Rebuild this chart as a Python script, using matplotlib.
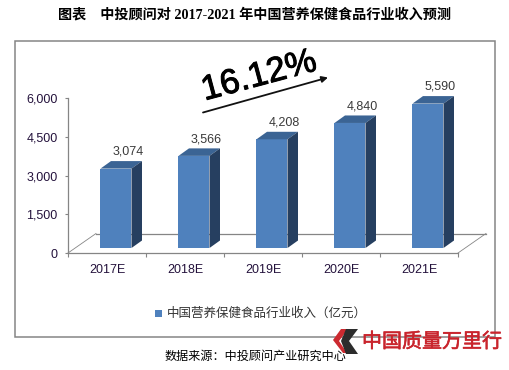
import matplotlib
matplotlib.use('Agg')
import matplotlib.pyplot as plt
import matplotlib.patheffects as pe
from matplotlib.patches import Polygon, Rectangle

## Data
categories = ['2017E', '2018E', '2019E', '2020E', '2021E']
revenue = [3074, 3566, 4208, 4840, 5590]
y_ticks = [0, 1500, 3000, 4500, 6000]
title = '图表    中投顾问对 2017-2021 年中国营养保健食品行业收入预测'
legend_label = '中国营养保健食品行业收入（亿元）'
source = '数据来源：中投顾问产业研究中心'
growth = '16.12%'
watermark = '中国质量万里行'

W, H = 510, 370
CJK = 'Noto Sans CJK SC'
LATIN = 'Liberation Sans'
TICK_COL = '#24123c'
FRONT, TOP, SIDE = '#4f81bd', '#3b6494', '#263f60'
GREY = '#858585'

fig = plt.figure(figsize=(W/100, H/100), dpi=100, facecolor='white')

## Overlay in pixel coordinates for the frame and free text
over = fig.add_axes([0, 0, 1, 1], zorder=0)
over.set_xlim(0, W)
over.set_ylim(H, 0)
over.axis('off')
over.add_patch(Rectangle((15, 41), 480.5, 296, fill=False, ec=GREY, lw=1.1))

## Main axes, pixel box x 68-458, y 98-253
ax_l, ax_r, ax_t, ax_b = 68, 458, 98, 253
ax = fig.add_axes([ax_l/W, 1-ax_b/H, (ax_r-ax_l)/W, (ax_b-ax_t)/H], zorder=1)
ax.patch.set_alpha(0)
ax.set_xlim(-0.5, 4.5)
ax.set_ylim(0, 6000)
px_x = 5/(ax_r-ax_l)        # data units per pixel
px_y = 6000/(ax_b-ax_t)

for s in ['top', 'right']:
    ax.spines[s].set_visible(False)
for s in ['left', 'bottom']:
    ax.spines[s].set_color(GREY)
    ax.spines[s].set_linewidth(0.9)

ax.set_yticks(y_ticks)
ax.set_yticklabels([f'{v:,}' for v in y_ticks], family=LATIN, fontsize=9, color=TICK_COL)
ax.tick_params(axis='y', length=2.5, width=0.8, color=GREY, pad=5)
ax.set_xticks([i-0.5 for i in range(6)])
ax.set_xticklabels([])
ax.tick_params(axis='x', which='major', length=3, width=0.8, color=GREY)
ax.set_xticks(range(5), minor=True)
ax.set_xticklabels(categories, minor=True, family=LATIN, fontsize=9, color=TICK_COL)
ax.tick_params(axis='x', which='minor', length=0, pad=8)

## Floor of the 3D chart
wall_y = 19.5*px_y
ax.plot([-0.5+28*px_x, 4.5+28*px_x], [wall_y, wall_y], color=GREY, lw=0.9, clip_on=False, zorder=1)
ax.plot([4.5+28*px_x, 4.5], [wall_y, 0], color=GREY, lw=0.6, clip_on=False, zorder=1)
ax.plot([-0.5, -0.5+28*px_x], [0, wall_y], color=GREY, lw=0.6, clip_on=False, zorder=1)

## Bars: front face from the data, depth faces follow the front corners
bar_w = 31*px_x
shift_x, base = 9*px_x, 5*px_y
dx, dy = 10.5*px_x, 7.5*px_y
for i, v in enumerate(revenue):
    l, r = i+shift_x-bar_w/2, i+shift_x+bar_w/2
    ax.bar(i+shift_x, v, bar_w, bottom=base, color=FRONT, zorder=3, clip_on=False)
    top_y = base+v
    ax.add_patch(Polygon([(l, top_y), (r, top_y), (r+dx, top_y+dy), (l+dx, top_y+dy)],
                         fc=TOP, ec='none', zorder=3, clip_on=False))
    ax.add_patch(Polygon([(r, base), (r+dx, base+dy), (r+dx, top_y+dy), (r, top_y)],
                         fc=SIDE, ec='none', zorder=3, clip_on=False))
    ax.annotate(f'{v:,}', (r, top_y), xytext=(-2.5, 12), textcoords='offset points',
                family=LATIN, fontsize=9, color='#3a3a3a', ha='center', va='center',
                annotation_clip=False)

## Title, legend, source
over.text(255, 14.5, title, family=['Liberation Serif', CJK], weight='bold', fontsize=10.2,
          color='black', ha='center', va='center')
over.add_patch(Rectangle((155, 310), 7, 7, fc=FRONT, ec='none'))
over.text(167, 313, legend_label, family=CJK, fontsize=9, color='#333333', va='center')
over.text(165, 356, source, family=CJK, fontsize=8.7, color='black', va='center')

## Growth label on top of everything
top = fig.add_axes([0, 0, 1, 1], zorder=2)
top.set_xlim(0, W)
top.set_ylim(H, 0)
top.axis('off')
top.text(259, 76, growth, family=LATIN, fontsize=25, rotation=15,
         rotation_mode='anchor', ha='center', va='center', color='black',
         path_effects=[pe.withStroke(linewidth=0.7, foreground='black')])
top.annotate('', xy=(328, 77.5), xytext=(203, 112.5),
             arrowprops=dict(arrowstyle='-|>', color='#111111', lw=1.3, mutation_scale=9,
                             shrinkA=0, shrinkB=0))

## Watermark logo and text
top.add_patch(Polygon([(341, 329), (348, 329), (339, 341), (347, 353), (343, 353), (333, 340)],
                      fc='#cc2a30', ec='none'))
top.add_patch(Polygon([(346, 329), (358, 329), (349, 341), (358, 354), (346, 354), (341, 341)],
                      fc='#2c2c2c', ec='none'))
top.text(362, 342, watermark, family=CJK, fontsize=14.4, color='#c9242c', va='center',
         path_effects=[pe.withStroke(linewidth=0.4, foreground='#c9242c')])

fig.savefig('out.png', dpi=100)
